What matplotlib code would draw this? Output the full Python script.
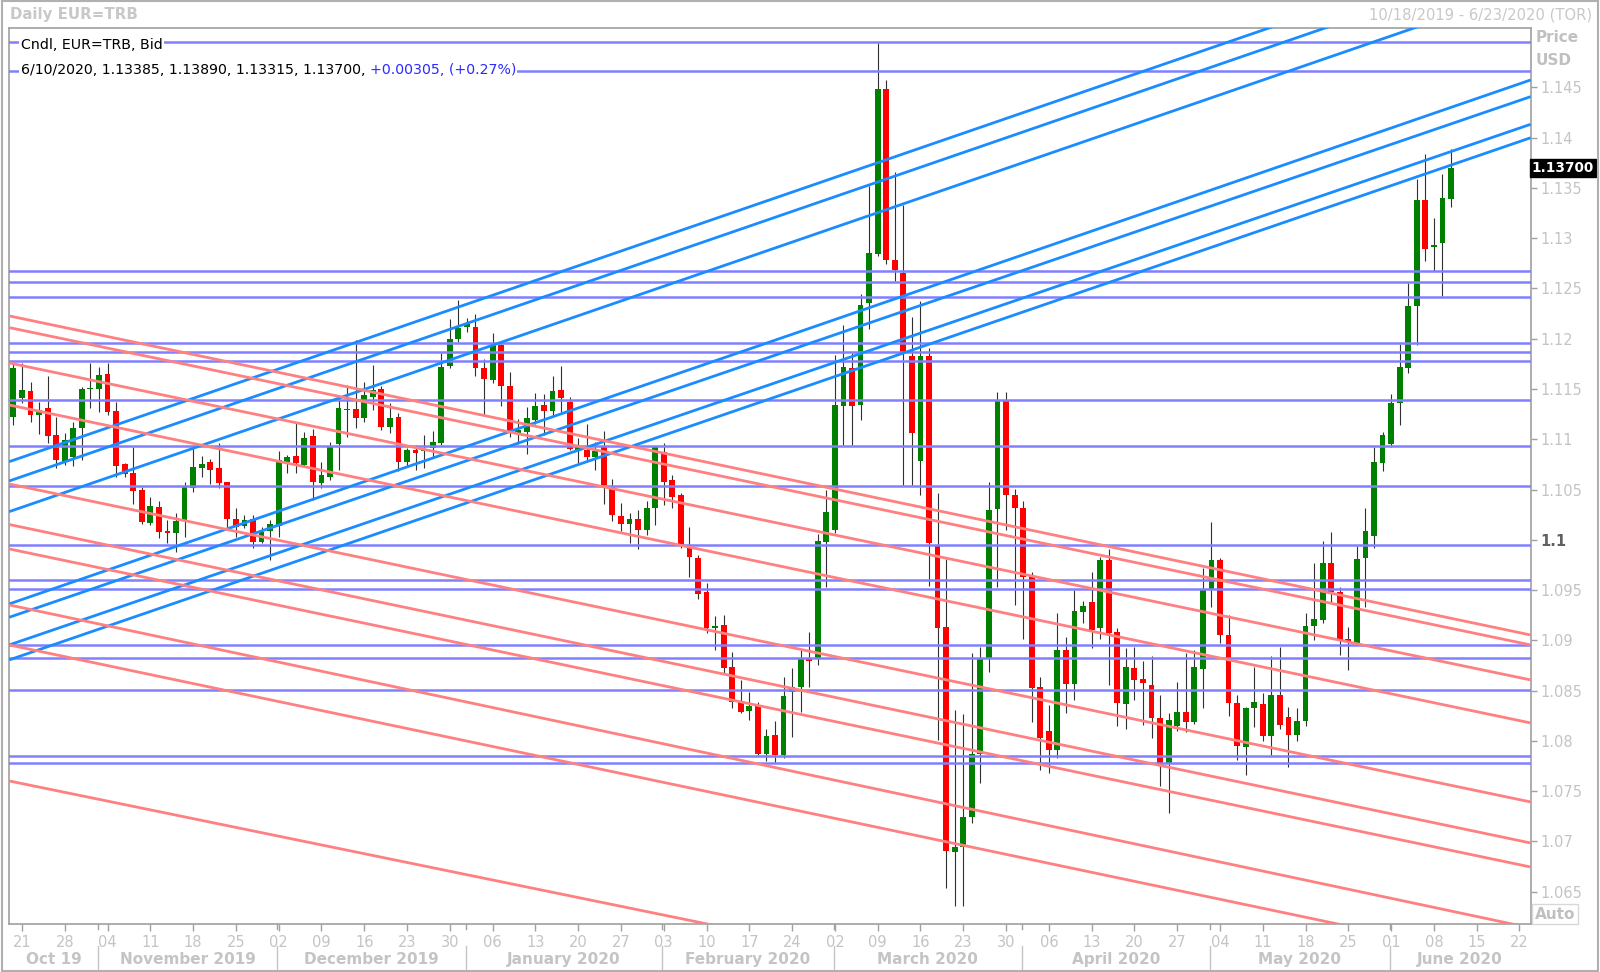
import numpy as np
import pandas as pd
import matplotlib
matplotlib.use("Agg")
import matplotlib.pyplot as plt
from matplotlib.patches import Rectangle
from matplotlib.lines import Line2D

# trading days shown on the axis (weekdays, 10/18/2019 - 6/23/2020)
dates = pd.bdate_range("2019-10-18", "2020-06-23")

# daily candles, EUR=TRB bid
opens = [1.11219, 1.11408, 1.11481, 1.11242, 1.11308, 1.11043, 1.10778, 1.10827, 1.11116, 1.11501,
         1.11501, 1.11650, 1.11282, 1.10751, 1.10662, 1.10496, 1.10164, 1.10330, 1.10088, 1.10071,
         1.10198, 1.10513, 1.10718, 1.10778, 1.10711, 1.10572, 1.10207, 1.10138, 1.10207, 1.09982,
         1.10091, 1.10138, 1.10778, 1.10834, 1.10745, 1.11033, 1.10562, 1.10629, 1.10954, 1.11292,
         1.11298, 1.11209, 1.11418, 1.11497, 1.11126, 1.11225, 1.10778, 1.10894, 1.10887, 1.10910,
         1.10960, 1.11730, 1.11995, 1.12121, 1.12121, 1.11713, 1.11590, 1.11938, 1.11531, 1.11053,
         1.11070, 1.11192, 1.11342, 1.11285, 1.11491, 1.11375, 1.10887, 1.10894, 1.10827, 1.10927,
         1.10529, 1.10237, 1.10158, 1.10207, 1.10098, 1.10314, 1.10877, 1.10596, 1.10446, 1.09949,
         1.09816, 1.09478, 1.09120, 1.09150, 1.08732, 1.08384, 1.08301, 1.08347, 1.07870, 1.08059,
         1.07860, 1.08490, 1.08540, 1.08812, 1.08812, 1.09982, 1.10095, 1.11331, 1.11712, 1.11341,
         1.12352, 1.12843, 1.14481, 1.12783, 1.12650, 1.11828, 1.10783, 1.11828, 1.09938, 1.09130,
         1.06898, 1.06947, 1.07239, 1.07869, 1.08810, 1.10304, 1.11390, 1.10450, 1.10314, 1.09634,
         1.08533, 1.08099, 1.07910, 1.08904, 1.08563, 1.09279, 1.09385, 1.09120, 1.09800, 1.09087,
         1.08367, 1.08722, 1.08616, 1.08556, 1.08225, 1.07784, 1.08148, 1.08284, 1.08191, 1.08712,
         1.09501, 1.09800, 1.09054, 1.08374, 1.07943, 1.08324, 1.08364, 1.08049, 1.08457, 1.08241,
         1.08060, 1.08200, 1.09146, 1.09203, 1.09766, 1.09484, 1.09010, 1.08970, 1.09816, 1.10038,
         1.10768, 1.10953, 1.11358, 1.11706, 1.12326, 1.13381, 1.12910, 1.12956, 1.13385]
highs = [1.11756, 1.11763, 1.11574, 1.11375, 1.11630, 1.11225, 1.11060, 1.11176, 1.11517, 1.11756,
         1.11716, 1.11756, 1.11375, 1.10761, 1.10927, 1.10522, 1.10423, 1.10390, 1.10198, 1.10270,
         1.10572, 1.10927, 1.10834, 1.10804, 1.10960, 1.10579, 1.10320, 1.10247, 1.10247, 1.10131,
         1.10198, 1.10887, 1.10844, 1.11159, 1.11076, 1.11099, 1.10778, 1.10977, 1.11408, 1.11541,
         1.11990, 1.11574, 1.11740, 1.11531, 1.11358, 1.11265, 1.10910, 1.10944, 1.11043, 1.11086,
         1.11855, 1.12194, 1.12386, 1.12204, 1.12243, 1.11796, 1.12054, 1.11981, 1.11673, 1.11199,
         1.11325, 1.11464, 1.11451, 1.11630, 1.11730, 1.11418, 1.11010, 1.11152, 1.10977, 1.11086,
         1.10602, 1.10370, 1.10264, 1.10297, 1.10390, 1.10934, 1.10960, 1.10645, 1.10470, 1.10131,
         1.09849, 1.09574, 1.09243, 1.09253, 1.08881, 1.08606, 1.08490, 1.08384, 1.08115, 1.08201,
         1.08632, 1.08722, 1.08904, 1.09080, 1.10058, 1.10496, 1.11838, 1.12136, 1.11854, 1.12445,
         1.13519, 1.14938, 1.14574, 1.13662, 1.13330, 1.12219, 1.12378, 1.11904, 1.10462, 1.09806,
         1.08307, 1.08267, 1.08870, 1.08930, 1.10578, 1.11473, 1.11473, 1.10510, 1.10390, 1.09684,
         1.08639, 1.08357, 1.09269, 1.09037, 1.09501, 1.09395, 1.09684, 1.09833, 1.09906, 1.09120,
         1.08920, 1.08937, 1.08798, 1.08845, 1.08457, 1.08274, 1.08590, 1.08871, 1.08904, 1.09717,
         1.10181, 1.09816, 1.09253, 1.08457, 1.08341, 1.08732, 1.08480, 1.08845, 1.08937, 1.08340,
         1.08330, 1.09275, 1.09766, 1.09992, 1.10081, 1.09534, 1.09136, 1.09939, 1.10313, 1.10927,
         1.11076, 1.11451, 1.11948, 1.12552, 1.13586, 1.13835, 1.13198, 1.13639, 1.13890]
lows = [1.11143, 1.11358, 1.11176, 1.11053, 1.10960, 1.10711, 1.10745, 1.10735, 1.10794, 1.11308,
        1.11275, 1.11242, 1.10629, 1.10622, 1.10357, 1.10154, 1.10148, 1.10015, 1.09965, 1.09882,
        1.10032, 1.10480, 1.10629, 1.10556, 1.10513, 1.10125, 1.10032, 1.10115, 1.09916, 1.09965,
        1.09799, 1.10032, 1.10662, 1.10662, 1.10728, 1.10396, 1.10513, 1.10596, 1.10695, 1.11026,
        1.11109, 1.11176, 1.11292, 1.11093, 1.11066, 1.10688, 1.10728, 1.10695, 1.10711, 1.10811,
        1.10944, 1.11706, 1.11972, 1.12071, 1.11630, 1.11242, 1.11564, 1.11332, 1.11026, 1.10954,
        1.10854, 1.11152, 1.11043, 1.11225, 1.11275, 1.10894, 1.10761, 1.10778, 1.10695, 1.10357,
        1.10191, 1.10091, 1.09965, 1.09906, 1.10048, 1.10148, 1.10347, 1.10314, 1.09916, 1.09634,
        1.09408, 1.09070, 1.08904, 1.08672, 1.08324, 1.08274, 1.08208, 1.07860, 1.07803, 1.07783,
        1.07827, 1.08036, 1.08291, 1.08540, 1.08755, 1.09528, 1.10070, 1.10943, 1.10943, 1.11191,
        1.12093, 1.12823, 1.12740, 1.12577, 1.10545, 1.10545, 1.10446, 1.09540, 1.08008, 1.06533,
        1.06360, 1.06360, 1.07186, 1.07577, 1.08688, 1.09534, 1.10098, 1.09352, 1.09011, 1.08191,
        1.07711, 1.07678, 1.07827, 1.08280, 1.08407, 1.09170, 1.08920, 1.09011, 1.08556, 1.08148,
        1.08115, 1.08407, 1.08158, 1.08026, 1.07551, 1.07280, 1.08102, 1.08092, 1.08168, 1.08324,
        1.09335, 1.08970, 1.08248, 1.07810, 1.07661, 1.08142, 1.08003, 1.07860, 1.08115, 1.07744,
        1.08000, 1.08150, 1.09004, 1.09176, 1.09385, 1.08850, 1.08705, 1.08950, 1.09335, 1.09916,
        1.10688, 1.10927, 1.11142, 1.11663, 1.11938, 1.12777, 1.12678, 1.12429, 1.13315]
closes = [1.11706, 1.11491, 1.11242, 1.11292, 1.11036, 1.10794, 1.10993, 1.11116, 1.11497, 1.11507,
          1.11640, 1.11275, 1.10738, 1.10652, 1.10490, 1.10181, 1.10340, 1.10081, 1.10071, 1.10191,
          1.10529, 1.10721, 1.10751, 1.10695, 1.10562, 1.10204, 1.10131, 1.10198, 1.09982, 1.10081,
          1.10158, 1.10794, 1.10821, 1.10761, 1.11010, 1.10579, 1.10645, 1.10927, 1.11308, 1.11298,
          1.11209, 1.11441, 1.11491, 1.11126, 1.11215, 1.10778, 1.10894, 1.10867, 1.10900, 1.10970,
          1.11723, 1.11995, 1.12111, 1.12144, 1.11713, 1.11600, 1.11938, 1.11531, 1.11076, 1.11093,
          1.11215, 1.11335, 1.11285, 1.11481, 1.11408, 1.10900, 1.10927, 1.10827, 1.10887, 1.10546,
          1.10247, 1.10158, 1.10207, 1.10098, 1.10314, 1.10927, 1.10579, 1.10423, 1.09945, 1.09826,
          1.09458, 1.09120, 1.09146, 1.08722, 1.08384, 1.08291, 1.08347, 1.07870, 1.08052, 1.07860,
          1.08447, 1.08533, 1.08812, 1.08792, 1.09989, 1.10274, 1.11342, 1.11722, 1.11331, 1.12335,
          1.12849, 1.14481, 1.12783, 1.12683, 1.11854, 1.11059, 1.11828, 1.09965, 1.09120, 1.06908,
          1.06947, 1.07239, 1.07869, 1.08810, 1.10297, 1.11390, 1.10446, 1.10320, 1.09627, 1.08523,
          1.08026, 1.07910, 1.08904, 1.08563, 1.09292, 1.09345, 1.09103, 1.09800, 1.09077, 1.08374,
          1.08732, 1.08606, 1.08573, 1.08225, 1.07784, 1.08208, 1.08284, 1.08191, 1.08732, 1.09501,
          1.09800, 1.09054, 1.08374, 1.07950, 1.08324, 1.08390, 1.08049, 1.08457, 1.08158, 1.08059,
          1.08200, 1.09146, 1.09213, 1.09766, 1.09484, 1.09004, 1.08987, 1.09809, 1.10088, 1.10771,
          1.11043, 1.11365, 1.11716, 1.12329, 1.13381, 1.12893, 1.12933, 1.13397, 1.13700]

# horizontal levels
levels = [1.14952, 1.14667, 1.12674, 1.12562, 1.12413, 1.11955, 1.11871, 1.11779, 1.11391,
          1.10936, 1.10538, 1.09949, 1.09597, 1.09514, 1.08954, 1.08828, 1.08506, 1.07850, 1.07777]

# trend lines: price at left edge and at right edge of the chart
line_x = [-0.49, 177.3]
up_left = [1.10777, 1.10585, 1.10280, 1.09362, 1.09229, 1.08954, 1.08805]
up_right = [1.15987, 1.15795, 1.15490, 1.14574, 1.14408, 1.14133, 1.13999]
down_left = [1.12227, 1.12111, 1.11759, 1.11341, 1.10555, 1.10152, 1.09909, 1.09352, 1.08954, 1.07601]
down_right = [1.09053, 1.08954, 1.08606, 1.08178, 1.07392, 1.06984, 1.06745, 1.06139, 1.05775, 1.04500]

y_ticks = [1.065, 1.07, 1.075, 1.08, 1.085, 1.09, 1.095, 1.1, 1.105, 1.11, 1.115, 1.12,
           1.125, 1.13, 1.135, 1.14, 1.145]
months = ["Oct 19", "November 2019", "December 2019", "January 2020", "February 2020",
          "March 2020", "April 2020", "May 2020", "June 2020"]

W, H = 1600, 972
fig = plt.figure(figsize=(W / 100, H / 100), dpi=100)
ax_l, ax_r, ax_t, ax_b = 9.2, 1530.6, 28, 924
ax = fig.add_axes([ax_l / W, 1 - ax_b / H, (ax_r - ax_l) / W, (ax_b - ax_t) / H])
ax.set_xlim(line_x[0], line_x[1])
ax.set_ylim(1.06178, 1.15091)

light = "#c4c4c4"
frame = "#a0a0a0"

# candles
o = np.array(opens)
c = np.array(closes)
idx = np.arange(len(o))
up = c >= o
body_lo = np.minimum(o, c)
body_h = np.maximum(np.abs(c - o), 0.00004)
ax.vlines(idx, lows, highs, color="#303030", lw=0.8, zorder=2)
ax.bar(idx, body_h, bottom=body_lo, width=0.68,
       color=np.where(up, "#008000", "#ff0000"), lw=0, zorder=3)

# drawn lines
for lv in levels:
    ax.axhline(lv, color="#8080ff", lw=1.8, zorder=4)
for a, b in zip(up_left, up_right):
    ax.plot(line_x, [a, b], color="#1a8cff", lw=2.0, zorder=4, solid_capstyle="butt")
for a, b in zip(down_left, down_right):
    ax.plot(line_x, [a, b], color="#ff8080", lw=2.0, zorder=4, solid_capstyle="butt")

# price axis on the right
ax.yaxis.tick_right()
ax.set_yticks(y_ticks)
ax.set_yticklabels([("%.3f" % v).rstrip("0") for v in y_ticks])
ax.tick_params(axis="y", length=4, width=1, color=frame, pad=3, labelsize=10.5, labelcolor=light)
for lab in ax.get_yticklabels():
    if lab.get_text() == "1.1":
        lab.set_color("#606060")
        lab.set_fontweight("bold")

# date axis: weekly ticks on Mondays
mondays = [i for i, d in enumerate(dates) if d.weekday() == 0]
ax.set_xticks(mondays)
ax.set_xticklabels([dates[i].strftime("%d") for i in mondays])
ax.tick_params(axis="x", length=5, width=1, color=frame, pad=3, labelsize=10.5, labelcolor=light)

for s in ax.spines.values():
    s.set_color(frame)
    s.set_linewidth(1.2)

# month separators and names
firsts = [i for i in range(1, len(dates)) if dates[i].month != dates[i - 1].month]
bounds = [line_x[0]] + [f - 0.15 for f in firsts] + [line_x[1]]
tr = ax.get_xaxis_transform()
for f in bounds[1:-1]:
    ax.add_line(Line2D([f, f], [-22 / 896, -47 / 896], transform=tr, color=light, lw=1,
                       clip_on=False))
    ax.add_line(Line2D([f, f], [0, -5 / 896], transform=tr, color=frame, lw=1, clip_on=False))
for name, a, b in zip(months, bounds[:-1], bounds[1:]):
    ax.text((a + b) / 2, -35 / 896, name, transform=tr, ha="center", va="center",
            fontsize=11, fontweight="bold", color=light)

# legend text
box = dict(facecolor="white", edgecolor="none", pad=1.0)
ax.text(0.0075, (ax_b - 45) / 896, "Cndl, EUR=TRB, Bid", transform=ax.transAxes,
        ha="left", va="center", fontsize=10.2, color="black", bbox=box, zorder=6)
t2 = ax.text(0.0075, (ax_b - 70) / 896, "6/10/2020, 1.13385, 1.13890, 1.13315, 1.13700, ",
             transform=ax.transAxes, ha="left", va="center", fontsize=10.2, color="black",
             bbox=box, zorder=6)
ax.annotate("+0.00305, (+0.27%)", xy=(1, 0.5), xycoords=t2, ha="left", va="center",
            fontsize=10.2, color="#2b2bff", bbox=box, zorder=6)

# header and right-side labels
fig.text(10 / W, 1 - 15 / H, "Daily EUR=TRB", ha="left", va="center", fontsize=10.8,
         fontweight="bold", color="#c8c8c8")
fig.text(1592 / W, 1 - 15 / H, "10/18/2019 - 6/23/2020 (TOR)", ha="right", va="center",
         fontsize=10.6, color="#c8c8c8")
fig.text(1536 / W, 1 - 38 / H, "Price", ha="left", va="center", fontsize=11,
         fontweight="bold", color="#c0c0c0")
fig.text(1536 / W, 1 - 60 / H, "USD", ha="left", va="center", fontsize=11,
         fontweight="bold", color="#c0c0c0")
ax.text(1.0008, closes[-1], "%.5f" % closes[-1], transform=ax.get_yaxis_transform(),
        ha="left", va="center", fontsize=9.8, fontweight="bold", color="white",
        bbox=dict(facecolor="black", edgecolor="black", pad=1.3), clip_on=False, zorder=7)
fig.text(1555 / W, 1 - 914 / H, "Auto", ha="center", va="center", fontsize=11,
         fontweight="bold", color="#c0c0c0",
         bbox=dict(facecolor="white", edgecolor="#d8d8d8", pad=2.0))

# outer frame
fig.patches.append(Rectangle((0.001, 0.001), 0.998, 0.998, transform=fig.transFigure,
                             fill=False, edgecolor="#b0b0b0", lw=1.5))

fig.savefig("out.png", dpi=100)
